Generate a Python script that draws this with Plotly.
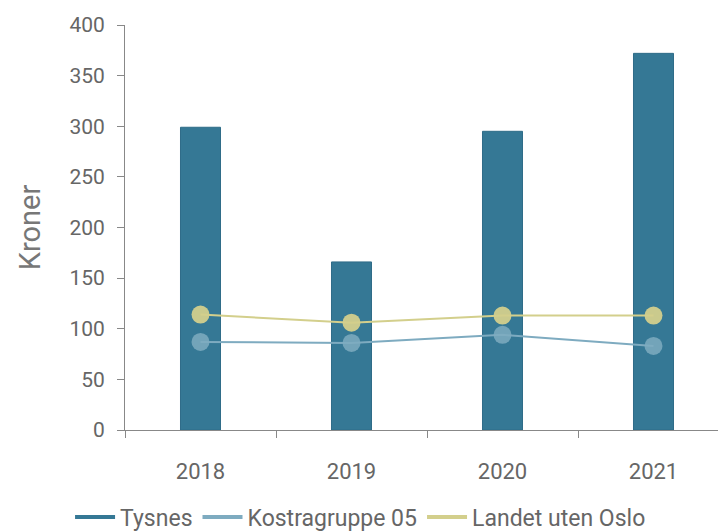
import plotly.graph_objects as go

years = ["2018", "2019", "2020", "2021"]
tysnes = [299, 166, 295, 372]
kostra = [87, 86, 94, 83]
landet = [114, 106, 113, 113]

c_bar = "#357895"
c_kostra = "#7eabc0"
c_landet = "#d3cf8c"

fig = go.Figure()
fig.add_trace(go.Bar(x=years, y=tysnes, name="Tysnes", marker=dict(color=c_bar, line=dict(color="#2f6c88", width=1)),
                     width=0.265, showlegend=False))
fig.add_trace(go.Scatter(x=years, y=kostra, name="Kostragruppe 05", mode="lines+markers",
                         line=dict(color=c_kostra, width=2), marker=dict(size=18, color=c_kostra, opacity=0.85),
                         showlegend=False))
fig.add_trace(go.Scatter(x=years, y=landet, name="Landet uten Oslo", mode="lines+markers",
                         line=dict(color=c_landet, width=2), marker=dict(size=18, color=c_landet, opacity=0.95),
                         showlegend=False))
# legend entries as line symbols
for nm, col in [("Tysnes", c_bar), ("Kostragruppe 05", c_kostra), ("Landet uten Oslo", c_landet)]:
    fig.add_trace(go.Scatter(x=[None], y=[None], mode="lines", name=nm, line=dict(color=col, width=4)))

fig.update_layout(
    width=726, height=532,
    margin=dict(l=117, r=5, t=17, b=110),
    plot_bgcolor="white", paper_bgcolor="white",
    font=dict(family="Roboto", size=22, color="#666666"),
    legend=dict(orientation="h", x=0.39, xanchor="center", yref="container", y=0.043, yanchor="middle",
                font=dict(size=23, color="#666666"), itemwidth=40, tracegroupgap=0),
    xaxis=dict(type="category", showgrid=False, showline=True, linecolor="#888888", linewidth=1,
               ticks="outside", tickson="boundaries", ticklen=7, tickcolor="#888888",
               ticklabelstandoff=22,
               tickfont=dict(size=22, color="#666666")),
    yaxis=dict(range=[0, 400], dtick=50, showgrid=False, showline=True, linecolor="#888888", linewidth=1,
               ticks="outside", ticklen=7, tickcolor="#888888", zeroline=False,
               ticklabelstandoff=8,
               title=dict(text="Kroner", font=dict(size=29, color="#777777"), standoff=20),
               tickfont=dict(size=21, color="#666666")),
)
fig.write_html("out.html")
